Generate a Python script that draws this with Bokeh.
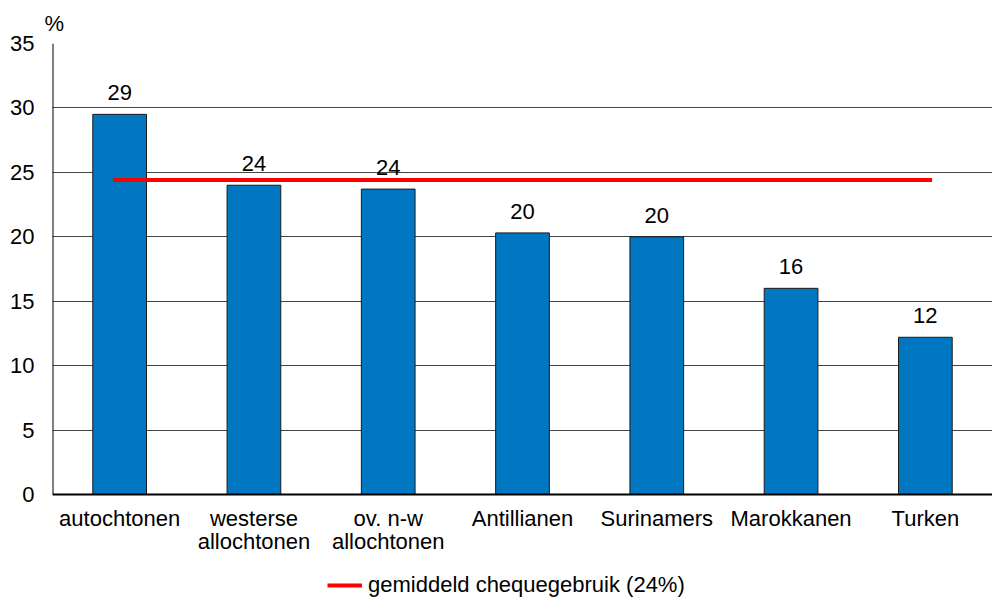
from bokeh.plotting import figure
from bokeh.models import ColumnDataSource, FixedTicker, Legend, LegendItem, Title
from bokeh.core.properties import value
from bokeh.embed import file_html
from bokeh.resources import INLINE

categories = ["autochtonen", "westerse\nallochtonen", "ov. n-w\nallochtonen",
              "Antillianen", "Surinamers", "Marokkanen", "Turken"]
values = [29.5, 24.0, 23.7, 20.3, 20.0, 16.0, 12.2]
labels = ["29", "24", "24", "20", "20", "16", "12"]
average = 24.4
legend_label = "gemiddeld chequegebruik (24%)"
y_ticks = [0, 5, 10, 15, 20, 25, 30, 35]

FONT = "Liberation Sans"
FS = "22px"

n = len(categories)
xs = [i + 0.5 for i in range(n)]
src = ColumnDataSource(dict(x=xs, top=values, label=labels, cat=categories,
                            zero=[0] * n))

# frame extends below 0 so that category labels and legend can live inside it
y_bottom = -108 / 12.886
p = figure(frame_width=940, frame_height=559, x_range=(0, n), y_range=(y_bottom, 35),
           output_backend="svg", toolbar_location=None,
           min_border_left=52, min_border_right=0, min_border_top=42, min_border_bottom=0)

p.vbar(x="x", top="top", width=0.4, source=src, fill_color="#0077C0",
       line_color="#1a1a1a", line_width=1)
p.text(x="x", y="top", text="label", source=src, text_align="center",
       text_baseline="bottom", y_offset=-14, text_font=value(FONT), text_font_size=FS,
       text_color="black")

# category labels below the zero line
p.text(x="x", y="zero", text="cat", source=src, text_align="center",
       text_baseline="top", y_offset=11, text_font=value(FONT), text_font_size=FS,
       text_line_height=0.92, text_color="black")

avg_r = p.line(x=[xs[0] - 0.05, xs[-1] + 0.05], y=[average, average],
               line_color="#FF0000", line_width=4)

# axis lines
p.segment(x0=[0, 0], y0=[0, 0], x1=[0, n], y1=[35, 0], line_color="black", line_width=2)

p.outline_line_color = None
p.xgrid.grid_line_color = None
p.ygrid.grid_line_color = "#444444"
p.ygrid.grid_line_width = 1
p.ygrid.ticker = FixedTicker(ticks=y_ticks)

p.yaxis.ticker = FixedTicker(ticks=y_ticks)
p.yaxis.major_tick_line_color = None
p.yaxis.minor_tick_line_color = None
p.yaxis.axis_line_color = None
p.yaxis.major_label_standoff = 12
p.yaxis.major_label_text_font = FONT
p.yaxis.major_label_text_font_size = FS
p.yaxis.major_label_text_color = "black"

p.xaxis.visible = False

p.add_layout(Title(text="%", align="left", offset=-8, standoff=16,
                   text_font=FONT, text_font_size=FS, text_color="black",
                   text_font_style="normal"), "above")

legend = Legend(items=[LegendItem(label=legend_label, renderers=[avg_r])],
                orientation="horizontal", location=(275, 4),
                label_text_font=FONT, label_text_font_size=FS, label_text_color="black",
                glyph_width=35, label_standoff=6, border_line_color=None,
                background_fill_alpha=0, padding=0, margin=0)
p.add_layout(legend, "center")

open("out.html", "w").write(file_html(p, INLINE))
